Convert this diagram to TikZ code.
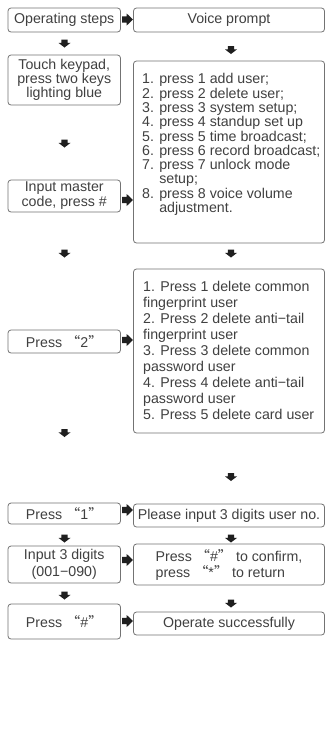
\documentclass[tikz,border=0pt]{standalone}
\usepackage{fontspec}
\setmainfont{Liberation Sans}
\newfontfamily\cjk{Noto Sans CJK SC}
\newcommand\oq{{\cjk “}}
\newcommand\cq{{\cjk ”}}
\begin{document}
\begin{tikzpicture}[x=1pt,y=-1pt,
  box/.style={draw=black!55, line width=0.8pt, rounded corners=3pt, inner sep=0pt},
  txt/.style={text=black!75, font=\fontsize{14.2}{14.3}\selectfont, inner sep=0pt},
  lbox/.style={box, txt, align=center, minimum width=112.5pt},
  rbox/.style={box, txt, align=center, minimum width=191pt},
  darr/.pic={\fill[black!88] (-3.2,-4) -- (3.2,-4) -- (3.2,-0.6) -- (6,-0.6) -- (0,4) -- (-6,-0.6) -- (-3.2,-0.6) -- cycle;},
  rarr/.pic={\fill[black!88] (-5.5,-3.2) -- (-0.8,-3.2) -- (-0.8,-6) -- (5.5,0) -- (-0.8,6) -- (-0.8,3.2) -- (-5.5,3.2) -- cycle;}
]
\useasboundingbox (0,0) rectangle (325,756);
\fill[white] (0,0) rectangle (325,756);

% left column
\node[lbox, minimum height=24pt] (ops) at (64.25,20) {Operating steps};
\node[lbox, minimum height=50pt, font=\fontsize{14.2}{13.8}\selectfont] (touch) at (64.25,80) {Touch keypad,\\press two keys\\lighting blue};
\node[lbox, minimum height=32pt, font=\fontsize{14.2}{15}\selectfont] (master) at (64.25,196) {Input master\\code, press \#};
\node[lbox, minimum height=23pt] (ptwo) at (64.25,341.5) {Press \oq 2\cq};
\node[lbox, minimum height=21pt] (pone) at (64.25,513.5) {Press \oq 1\cq};
\node[lbox, minimum height=37pt, font=\fontsize{14.2}{16.5}\selectfont] (digits) at (64.25,564.5) {Input 3 digits\\(001−090)};
\node[lbox, minimum height=35pt] (phash) at (64.25,621.5) {Press \oq\#\cq};

% right column
\node[rbox, minimum height=24pt] (voice) at (229,20) {Voice prompt};
\node[rbox, minimum height=182pt] (menu) at (229,152) {};
\node[txt, align=left, anchor=west] (menutxt) at (142,144.5) {1. press 1 add user;\\2. press 2 delete user;\\3. press 3 system setup;\\4. press 4 standup set up\\5. press 5 time broadcast;\\6. press 6 record broadcast;\\7. press 7 unlock mode\\\hphantom{7. }setup;\\8. press 8 voice volume\\\hphantom{8. }adjustment.};
\node[rbox, minimum height=164pt] (del) at (229,351) {};
\node[txt, align=left, anchor=west, font=\fontsize{14.2}{15.9}\selectfont] (deltxt) at (143,350.5) {1. Press 1 delete common\\fingerprint user\\2. Press 2 delete anti−tail\\fingerprint user\\3. Press 3 delete common\\password user\\4. Press 4 delete anti−tail\\password user\\5. Press 5 delete card user};
\node[rbox, minimum height=23pt] (please) at (229,515.5) {Please input 3 digits user no.};
\node[rbox, minimum height=41pt, align=left, font=\fontsize{14.2}{16}\selectfont] (confirm) at (229,564.5) {Press \oq\#\cq{} to confirm,\\press \oq*\cq{} to return};
\node[rbox, minimum height=23pt] (success) at (229,623.5) {Operate successfully};

% down arrows, left column
\foreach \y in {43.5,143.5,253.5,433,538.5,595.5} \pic at (64.5,\y) {darr};
% down arrows, right column
\foreach \y in {50,253.5,477,538.5,603.5} \pic at (231,\y) {darr};
% right arrows
\foreach \y in {19.5,200,340,510,560,621} \pic at (127.5,\y) {rarr};
\end{tikzpicture}
\end{document}
